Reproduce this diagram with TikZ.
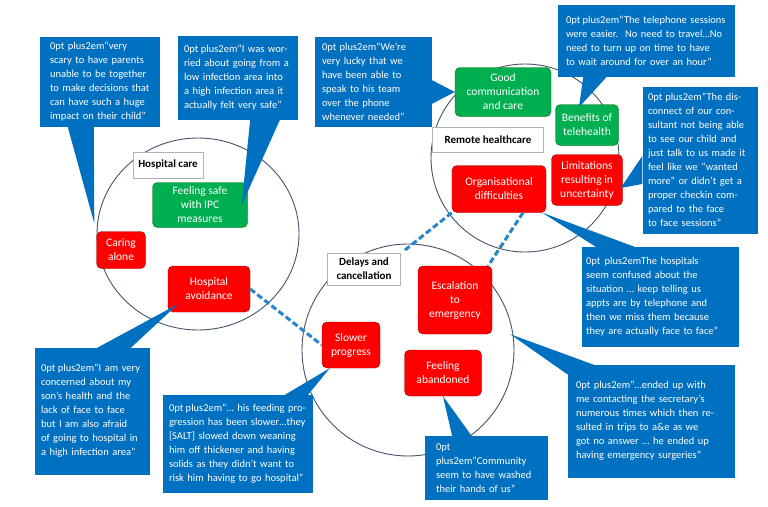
\documentclass[tikz,border=0pt]{standalone}
\usepackage{fontspec}
\setmainfont{Carlito}
\usetikzlibrary{calc}
\definecolor{callblue}{RGB}{0,112,192}
\definecolor{themered}{RGB}{255,0,0}
\definecolor{themegreen}{RGB}{0,176,80}
\definecolor{ringgray}{RGB}{68,84,106}
\tikzset{
  theme/.style={draw, rounded corners=5pt, align=center, text=white, inner sep=2pt,
    font=\fontsize{11.5}{14}\selectfont},
  bad/.style={theme, fill=themered, draw=red!60!black},
  good/.style={theme, fill=themegreen, draw=green!40!black},
  label/.style={draw=black!30, fill=white, align=center, font=\bfseries\fontsize{11}{14}\selectfont},
  quote/.style={fill=callblue, text=white, align=center, inner sep=3pt,
    font=\fontsize{10.5}{14}\selectfont\hyphenpenalty=10000},
  ring/.style={draw=ringgray, line width=0.9pt},
  link/.style={draw=callblue!85, line width=3pt, dash pattern=on 6pt off 3pt},
}
\begin{document}
\begin{tikzpicture}[x=1pt, y=-1pt]
  \useasboundingbox[fill=white] (0,0) rectangle (768,506);
  % circles
  \draw[ring] (198,234) ellipse (101 and 96);
  \draw[ring] (408,350) circle (106);
  \draw[ring] (525,158) circle (94);

  % quotes
  \node[quote, minimum width=120, minimum height=90, text width=100] (q-scary) at (100,82)
    {“very scary to have parents unable to be together to make decisions that can have such a huge impact on their child”};
  \node[quote, minimum width=120, minimum height=84, text width=108] (q-worried) at (238,78)
    {“I was worried about going from a low infection area into a high infection area it actually felt very safe”};
  \node[quote, minimum width=117, minimum height=90, text width=102] (q-lucky) at (373,82)
    {“We’re very lucky that we have been able to speak to his team over the phone whenever needed”};
  \node[quote, minimum width=177, minimum height=72, text width=160] (q-phone) at (646,41)
    {“The telephone sessions were easier.\ \ No need to travel…No need to turn up on time to have to wait around for over an hour”};
  \node[quote, minimum width=115, minimum height=147, text width=104] (q-disconnect) at (700,160)
    {“The disconnect of our consultant not being able to see our child and just talk to us made it feel like we “wanted more” or didn’t get a proper checkin compared to the face to face sessions”};
  \node[quote, minimum width=157, minimum height=100, text width=148] (q-confused) at (660,297)
    {The hospitals seem confused about the situation … keep telling us appts are by telephone and then we miss them because they are actually face to face”};
  \node[quote, minimum width=167, minimum height=113, text width=150] (q-emergency) at (651,421)
    {“…ended up with me contacting the secretary’s numerous times which then resulted in trips to a\&e as we got no answer … he ended up having emergency surgeries”};
  \node[quote, minimum width=123, minimum height=64, text width=100] (q-community) at (486,468)
    {“Community seem to have washed their hands of us”};
  \node[quote, minimum width=150, minimum height=98, text width=138] (q-feeding) at (238,444)
    {“… his feeding progression has been slower…they [SALT] slowed down weaning him off thickener and having solids as they didn’t want to risk him having to go hospital”};
  \node[quote, minimum width=115, minimum height=127, text width=102] (q-concerned) at (92,411)
    {“I am very concerned about my son’s health and the lack of face to face but I am also afraid of going to hospital in a high infection area”};

  % theme boxes
  \node[label, minimum width=70, minimum height=26] (hospital) at (168,165) {Hospital care};
  \node[label, minimum width=73, minimum height=32] (delays) at (364,269) {Delays and\\cancellation};
  \node[label, minimum width=111, minimum height=25] (remote) at (488,140) {Remote healthcare};
  \node[good, minimum width=95, minimum height=45] (safe) at (200,205) {Feeling safe\\with IPC\\measures};
  \node[bad, minimum width=49, minimum height=37] (alone) at (121,250) {Caring\\alone};
  \node[bad, minimum width=82, minimum height=46] (avoid) at (209,289) {Hospital\\avoidance};
  \node[good, minimum width=96, minimum height=49] (comm) at (503,92) {Good\\communication\\and care};
  \node[good, minimum width=63, minimum height=41] (benefit) at (587,125) {Benefits of\\telehealth};
  \node[bad, minimum width=94, minimum height=47] (org) at (499,189) {Organisational\\difficulties};
  \node[bad, minimum width=71, minimum height=51] (limit) at (587,180) {Limitations\\resulting in\\uncertainty};
  \node[bad, minimum width=74, minimum height=68] (escal) at (455,300) {Escalation\\to\\emergency};
  \node[bad, minimum width=58, minimum height=46] (slower) at (351,345) {Slower\\progress};
  \node[bad, minimum width=77, minimum height=46] (aband) at (443,373) {Feeling\\abandoned};

  % pointers
  \fill[callblue] ($(q-scary.south west)+(28,0)$) -- ($(alone.north west)+(-2,-8)$) -- ($(q-scary.south west)+(54,0)$) -- cycle;
  \fill[callblue] ($(q-worried.south east)+(-48,-1)$) -- ($(safe.east)+(-6,0)$) -- ($(q-worried.south east)+(-18,-1)$) -- cycle;
  \fill[callblue] ($(q-lucky.east)+(0,-2)$) -- (comm.west) -- ($(q-lucky.east)+(0,22)$) -- cycle;
  \fill[callblue] ($(q-phone.south west)+(26,-1)$) -- ($(benefit.north)+(-8,3)$) -- ($(q-phone.south west)+(50,-1)$) -- cycle;
  \fill[callblue] ($(q-disconnect.west)+(0,-4)$) -- ($(limit.east)+(-2,8)$) -- ($(q-disconnect.west)+(0,24)$) -- cycle;
  \fill[callblue] ($(q-confused.north west)+(16,1)$) -- ($(org.south east)+(-4,0)$) -- ($(q-confused.north west)+(56,1)$) -- cycle;
  \fill[callblue] ($(q-emergency.north west)+(0,10)$) -- ($(escal.south east)+(18,0)$) -- ($(q-emergency.north west)+(28,1)$) -- cycle;
  \fill[callblue] ($(q-community.north west)+(28,1)$) -- (aband.south) -- ($(q-community.north west)+(48,1)$) -- cycle;
  \fill[callblue] ($(q-feeding.north east)+(-30,1)$) -- ($(slower.south west)+(8,0)$) -- ($(q-feeding.north east)+(-6,1)$) -- cycle;
  \fill[callblue] ($(q-concerned.north west)+(62,1)$) -- ($(avoid.south west)+(10,-8)$) -- ($(q-concerned.north west)+(96,1)$) -- cycle;

  % links
  \coordinate (delays-top) at (405,250);
  \coordinate (delays-right) at (488,266);
  \path[link] (avoid.east) -- (slower.west);
  \path[link] (org.south west) -- (delays-top);
  \path[link] ($(org.south)+(24,0)$) -- (delays-right);
\end{tikzpicture}
\end{document}
